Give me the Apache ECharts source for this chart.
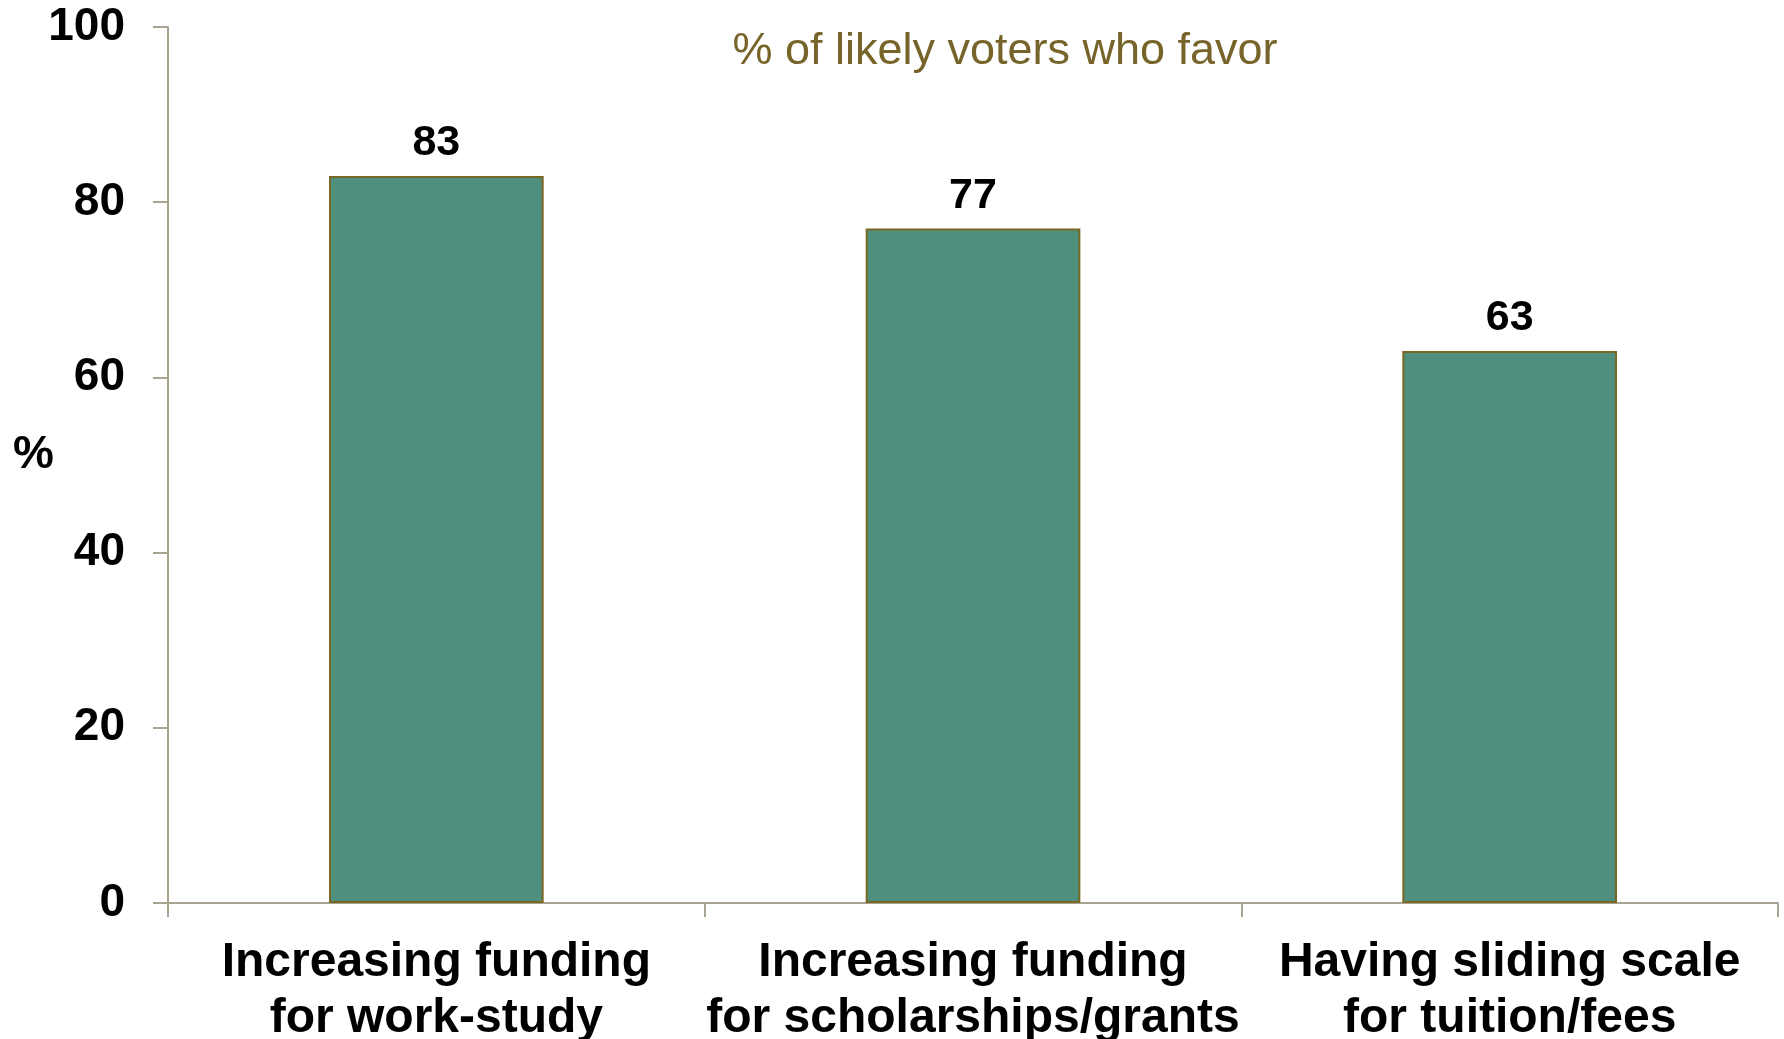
<!DOCTYPE html>
<html><head><meta charset="utf-8">
<script src="https://cdn.jsdelivr.net/npm/echarts@6/dist/echarts.min.js"></script>
<style>html,body{margin:0;padding:0;background:#fff}#c{width:1784px;height:1039px}</style>
</head><body><div id="c"></div>
<script>
const categories = ['Increasing funding\nfor work-study', 'Increasing funding\nfor scholarships/grants', 'Having sliding scale\nfor tuition/fees'];
const favorValues = [83, 77, 63];
const yTicks = [0, 20, 40, 60, 80, 100];
const titleText = '% of likely voters who favor';
const yAxisName = '%';

const sans = "'Liberation Sans', Arial, sans-serif";
const axisCol = '#a9a491';
const chart = echarts.init(document.getElementById('c'));
chart.setOption({
  animation: false,
  backgroundColor: '#fff',
  title: {
    text: titleText, left: 1000, top: 24, textAlign: 'center',
    textStyle: { fontFamily: sans, fontWeight: 'normal', fontSize: 45, color: '#76642a' }
  },
  graphic: [{
    type: 'text', left: 13, top: 432,
    style: { text: yAxisName, fontFamily: sans, fontWeight: 'bold', fontSize: 46, fill: '#000' }
  }],
  grid: { left: 168, right: 6, top: 27, bottom: 136, containLabel: false, outerBoundsMode: 'none' },
  xAxis: {
    type: 'category', data: categories,
    axisLine: { lineStyle: { color: axisCol, width: 2 } },
    axisTick: { show: true, length: 14, lineStyle: { color: axisCol, width: 2 } },
    axisLabel: { interval: 0, margin: 32, fontFamily: sans, fontWeight: 'bold', fontSize: 48, lineHeight: 56, color: '#000' }
  },
  yAxis: {
    type: 'value', min: yTicks[0], max: yTicks[yTicks.length - 1], interval: 20,
    splitLine: { show: false },
    axisLine: { show: true, lineStyle: { color: axisCol, width: 2 } },
    axisTick: { show: true, length: 15, lineStyle: { color: axisCol, width: 2 } },
    axisLabel: { margin: 43, fontFamily: sans, fontWeight: 'bold', fontSize: 46, color: '#000' }
  },
  series: [{
    type: 'bar', data: favorValues, barWidth: '40%',
    itemStyle: { color: '#4f8f7e', borderColor: '#7a6724', borderWidth: 2 },
    label: { show: true, position: 'top', distance: 11, fontFamily: sans, fontWeight: 'bold', fontSize: 43, color: '#000' }
  }]
});
</script></body></html>
